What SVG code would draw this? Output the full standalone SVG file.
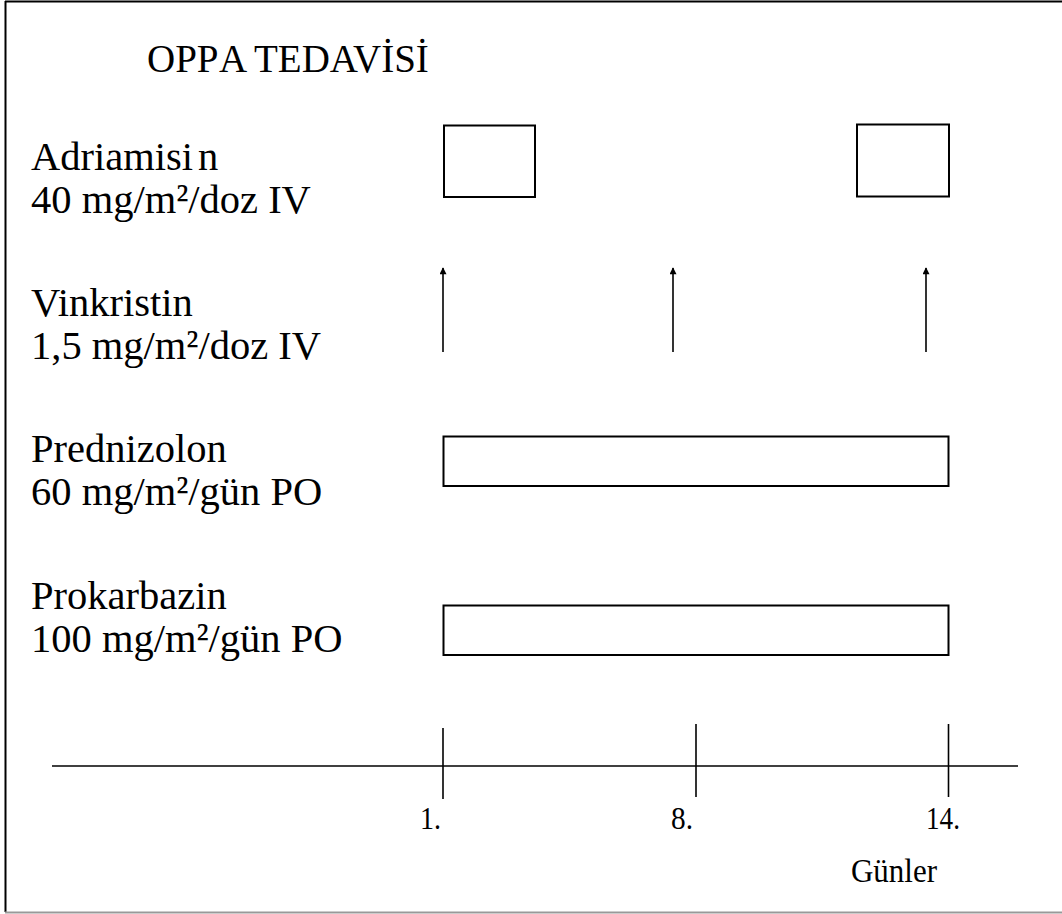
<svg xmlns="http://www.w3.org/2000/svg" width="1062" height="914" viewBox="0 0 1062 914">
<defs>
<style>
.t{font-family:"Liberation Serif","Times New Roman",serif;fill:#000}
.lab{font-size:40.5px}
.ax{font-size:31px}
.s{fill:#fff;stroke:#000;stroke-width:2}
.ln{stroke:#000;stroke-width:1.6;fill:none}
</style>
<marker id="ah" viewBox="0 0 10 10" refX="9" refY="5" markerWidth="9" markerHeight="7" markerUnits="userSpaceOnUse" orient="auto"><path d="M0,0 L10,5 L0,10 Z" fill="#000"/></marker>
</defs>
<rect width="1062" height="914" fill="#fff"/>
<g id="frame">
<line x1="5" y1="1.5" x2="1062" y2="1.5" stroke="#000" stroke-width="2"/>
<line x1="5.5" y1="1" x2="5.5" y2="912" stroke="#000" stroke-width="2"/>
<line x1="5" y1="912.5" x2="1062" y2="912.5" stroke="#999" stroke-width="2"/>
</g>
<g id="title"><text class="t" x="147" y="72" font-size="39">OPP<tspan dx="4">A TEDAVİSİ</tspan></text></g>
<g id="adriamisin">
<text class="t lab" x="31" y="170">Adriamisi<tspan dx="5">n</tspan></text>
<text class="t lab" x="31" y="213">40 mg/m²/doz IV</text>
<rect class="s" x="444" y="125.5" width="91" height="71.5"/>
<rect class="s" x="857" y="124.5" width="92" height="72"/>
</g>
<g id="vinkristin">
<text class="t lab" x="31" y="316">Vinkristin</text>
<text class="t lab" x="31" y="359">1,5 mg/m²/doz IV</text>
</g>
<g id="prednizolon">
<text class="t lab" x="31" y="462">Prednizolon</text>
<text class="t lab" x="31" y="505">60 mg/m²/gün PO</text>
<rect class="s" x="443.5" y="436.5" width="505" height="49.5"/>
</g>
<g id="prokarbazin">
<text class="t lab" x="31" y="609">Prokarbazin</text>
<text class="t lab" x="31" y="652">100 mg/m²/gün PO</text>
<rect class="s" x="443.5" y="605.5" width="505" height="49.5"/>
</g>
<g id="axis">
<line class="ln" x1="52" y1="766" x2="1018" y2="766"/>
<line class="ln" x1="443" y1="728" x2="443" y2="799"/>
<line class="ln" x1="696" y1="724" x2="696" y2="797"/>
<line class="ln" x1="948.5" y1="724" x2="948.5" y2="797"/>
<text class="t ax" x="420" y="829" textLength="21" lengthAdjust="spacingAndGlyphs">1.</text>
<text class="t ax" x="671" y="829" textLength="22" lengthAdjust="spacingAndGlyphs">8.</text>
<text class="t ax" x="926" y="829" textLength="34" lengthAdjust="spacingAndGlyphs">14.</text>
<text class="t" x="851" y="882" font-size="33" textLength="86" lengthAdjust="spacingAndGlyphs">Günler</text>
</g>
<g id="connectors">
<line class="ln" x1="443" y1="352" x2="443" y2="268" marker-end="url(#ah)"/>
<line class="ln" x1="673" y1="352" x2="673" y2="268" marker-end="url(#ah)"/>
<line class="ln" x1="926" y1="352" x2="926" y2="268" marker-end="url(#ah)"/>
</g>
</svg>
